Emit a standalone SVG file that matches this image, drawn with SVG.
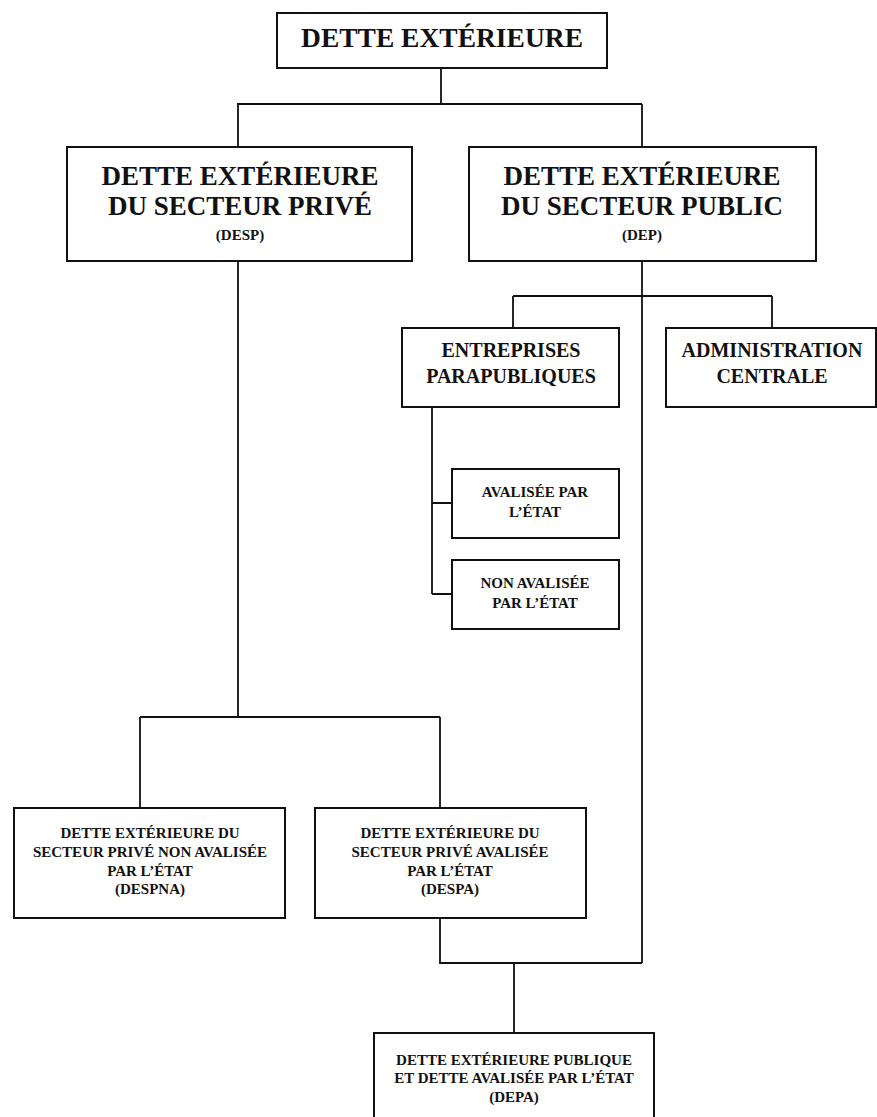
<svg xmlns="http://www.w3.org/2000/svg" width="877" height="1117" viewBox="0 0 877 1117">
<style>
.box{fill:#fff;stroke:#111;stroke-width:2}
.ln{fill:none;stroke:#111;stroke-width:1.8}
text{font-family:"Liberation Serif","Times New Roman",serif;font-weight:bold;fill:#111;text-anchor:middle}
.t0{font-size:27.5px}
.t1{font-size:27px}
.t2{font-size:15px}
.t3{font-size:20px}
.t4{font-size:15px}
</style>
<rect width="877" height="1117" fill="#fff"/>
<g id="connectors">
<path class="ln" d="M441 68V104M237 104H642M238 104V147M642 104V147"/>
<path class="ln" d="M238 261V717M140 717H440M140 717V808M440 717V808"/>
<path class="ln" d="M642 261V963M440 918V963H642M514 963V1033"/>
<path class="ln" d="M513 296H772M513 296V328M772 296V328"/>
<path class="ln" d="M432 407V594M432 503H452M432 594H452"/>
</g>
<g id="n-dette">
<rect class="box" x="277" y="13" width="330" height="55"/>
<text class="t0" x="442" y="47">DETTE EXTÉRIEURE</text>
</g>
<g id="n-desp">
<rect class="box" x="67" y="147" width="345" height="114"/>
<text class="t1" x="240" y="185">DETTE EXTÉRIEURE</text>
<text class="t1" x="240" y="215">DU SECTEUR PRIVÉ</text>
<text class="t2" x="240" y="240">(DESP)</text>
</g>
<g id="n-dep">
<rect class="box" x="469" y="147" width="347" height="114"/>
<text class="t1" x="642" y="185">DETTE EXTÉRIEURE</text>
<text class="t1" x="642" y="215">DU SECTEUR PUBLIC</text>
<text class="t2" x="642" y="240">(DEP)</text>
</g>
<g id="n-entreprises">
<rect class="box" x="402" y="328" width="217" height="79"/>
<text class="t3" x="511" y="357">ENTREPRISES</text>
<text class="t3" x="511" y="383">PARAPUBLIQUES</text>
</g>
<g id="n-admin">
<rect class="box" x="666" y="328" width="210" height="79"/>
<text class="t3" x="772" y="357">ADMINISTRATION</text>
<text class="t3" x="772" y="383">CENTRALE</text>
</g>
<g id="n-avalisee">
<rect class="box" x="452" y="469" width="167" height="69"/>
<text class="t4" x="535" y="497">AVALISÉE PAR</text>
<text class="t4" x="535" y="517">L’ÉTAT</text>
</g>
<g id="n-nonavalisee">
<rect class="box" x="452" y="560" width="167" height="69"/>
<text class="t4" x="535" y="588">NON AVALISÉE</text>
<text class="t4" x="535" y="608">PAR L’ÉTAT</text>
</g>
<g id="n-despna">
<rect class="box" x="14" y="808" width="271" height="110"/>
<text class="t4" x="150" y="838">DETTE EXTÉRIEURE DU</text>
<text class="t4" x="150" y="857">SECTEUR PRIVÉ NON AVALISÉE</text>
<text class="t4" x="150" y="876">PAR L’ÉTAT</text>
<text class="t4" x="150" y="894">(DESPNA)</text>
</g>
<g id="n-despa">
<rect class="box" x="315" y="808" width="271" height="110"/>
<text class="t4" x="450" y="838">DETTE EXTÉRIEURE DU</text>
<text class="t4" x="450" y="857">SECTEUR PRIVÉ AVALISÉE</text>
<text class="t4" x="450" y="876">PAR L’ÉTAT</text>
<text class="t4" x="450" y="894">(DESPA)</text>
</g>
<g id="n-depa">
<rect class="box" x="374" y="1033" width="280" height="100"/>
<text class="t4" x="514" y="1065">DETTE EXTÉRIEURE PUBLIQUE</text>
<text class="t4" x="514" y="1083">ET DETTE AVALISÉE PAR L’ÉTAT</text>
<text class="t4" x="514" y="1102">(DEPA)</text>
</g>
</svg>
